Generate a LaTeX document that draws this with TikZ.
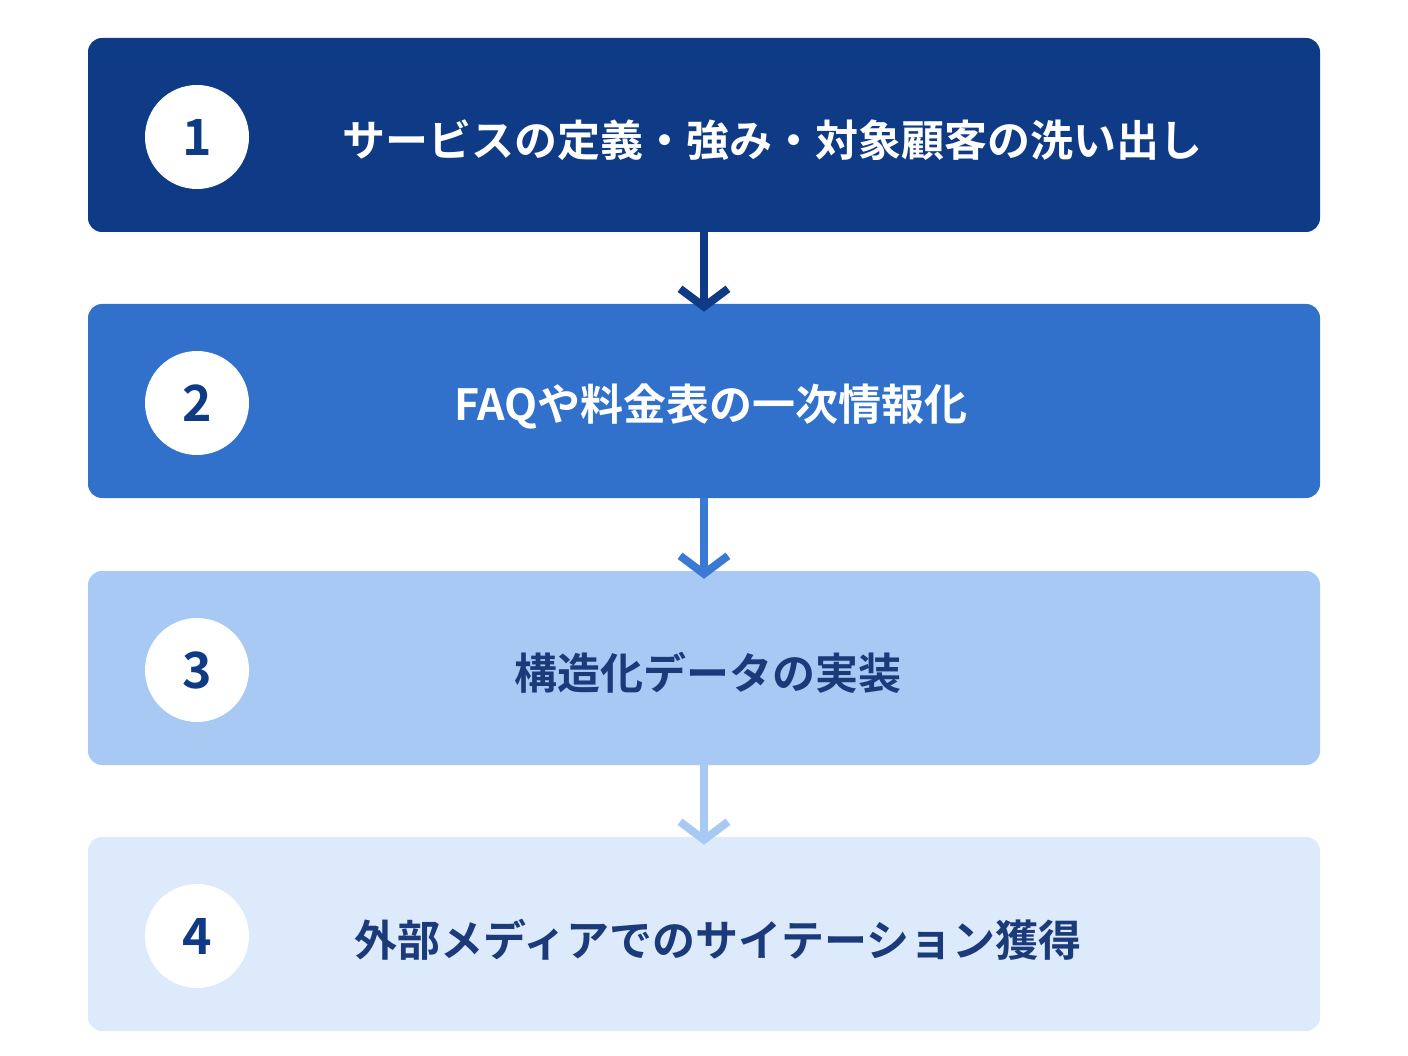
\documentclass[tikz,border=0pt]{standalone}
\usepackage{fontspec}
\newfontfamily\cjk{Noto Sans CJK JP}[BoldFont={Noto Sans CJK JP Bold}]
\usetikzlibrary{arrows.meta}
\definecolor{c1}{HTML}{0F3A85}
\definecolor{c2}{HTML}{3171CB}
\definecolor{c3}{HTML}{A8C9F3}
\definecolor{c4}{HTML}{DDEAFB}
\definecolor{a2}{HTML}{3A7AD4}
\definecolor{tx}{HTML}{1B3A7A}
\begin{document}
\begin{tikzpicture}[x=1pt,y=-1pt,
  stepbox/.style={rounded corners=14pt, minimum width=1232pt, minimum height=194pt, inner sep=0pt},
  num/.style={circle, fill=white, minimum size=104pt, inner sep=0pt, font=\cjk\bfseries\fontsize{50}{50}\selectfont},
  lbl/.style={font=\cjk\bfseries\fontsize{43}{43}\selectfont, inner sep=0pt},
  arr/.style={line width=8pt, -{Straight Barb[length=18pt,width=48pt,line width=8pt]}}]
\useasboundingbox[fill=white] (0,0) rectangle (1408,1056);
\node[stepbox, fill=c1] (b1) at (704,135) {};
\node[stepbox, fill=c2] (b2) at (704,401) {};
\node[stepbox, fill=c3] (b3) at (704,668) {};
\node[stepbox, fill=c4] (b4) at (704,934) {};
\node[num, text=c1] (n1) at (197,137) {1};
\node[num, text=c1] (n2) at (197,403) {2};
\node[num, text=c1] (n3) at (197,670) {3};
\node[num, text=c1] (n4) at (197,936) {4};
\node[lbl, text=white] (t1) at (772,140) {サービスの定義・強み・対象顧客の洗い出し};
\node[lbl, text=white] (t2) at (711,406) {FAQや料金表の一次情報化};
\node[lbl, text=tx] (t3) at (708,673) {構造化データの実装};
\node[lbl, text=tx] (t4) at (718,940) {外部メディアでのサイテーション獲得};
\draw[arr, draw=c1] (b1.south) -- ([yshift=-8pt]b2.north);
\draw[arr, draw=a2] (b2.south) -- ([yshift=-8pt]b3.north);
\draw[arr, draw=c3] (b3.south) -- ([yshift=-8pt]b4.north);
\end{tikzpicture}
\end{document}
